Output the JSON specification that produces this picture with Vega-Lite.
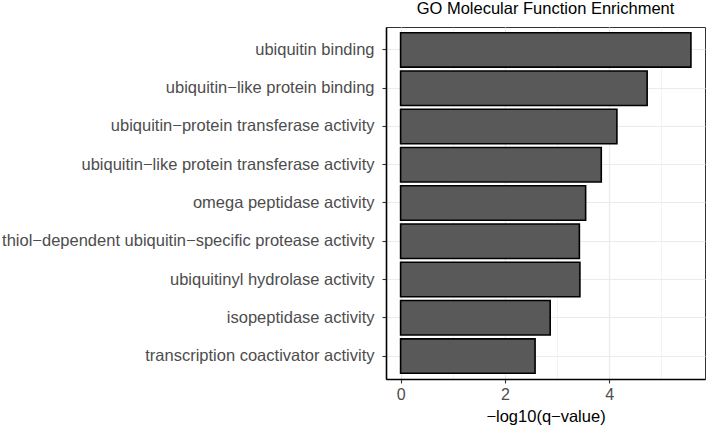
{
  "$schema": "https://vega.github.io/schema/vega-lite/v6.json",
  "width": 319,
  "height": 352,
  "autosize": {"type": "none"},
  "padding": {"left": 386, "top": 27, "right": 1, "bottom": 48},
  "background": "white",
  "title": {
    "text": "GO Molecular Function Enrichment",
    "fontSize": 16.5,
    "fontWeight": "normal",
    "font": "Liberation Sans",
    "color": "black",
    "anchor": "middle",
    "frame": "group",
    "offset": 10
  },
  "data": {
    "values": [
      {"term": "ubiquitin binding", "value": 5.57},
      {"term": "ubiquitin−like protein binding", "value": 4.73},
      {"term": "ubiquitin−protein transferase activity", "value": 4.15},
      {"term": "ubiquitin−like protein transferase activity", "value": 3.85},
      {"term": "omega peptidase activity", "value": 3.55},
      {"term": "thiol−dependent ubiquitin−specific protease activity", "value": 3.43},
      {"term": "ubiquitinyl hydrolase activity", "value": 3.44},
      {"term": "isopeptidase activity", "value": 2.87},
      {"term": "transcription coactivator activity", "value": 2.58}
    ]
  },
  "mark": {"type": "bar", "fill": "#595959", "stroke": "black", "strokeWidth": 1.6},
  "encoding": {
    "y": {
      "field": "term",
      "type": "nominal",
      "sort": [
        "ubiquitin binding",
        "ubiquitin−like protein binding",
        "ubiquitin−protein transferase activity",
        "ubiquitin−like protein transferase activity",
        "omega peptidase activity",
        "thiol−dependent ubiquitin−specific protease activity",
        "ubiquitinyl hydrolase activity",
        "isopeptidase activity",
        "transcription coactivator activity"
      ],
      "scale": {"paddingInner": 0.1, "paddingOuter": 0.15},
      "axis": {
        "title": null,
        "bandPosition": 0.5,
        "grid": true,
        "gridColor": "#EBEBEB",
        "gridWidth": 1.2,
        "labelPadding": 8,
        "labelLimit": 0,
        "labelFontSize": 16.5
      }
    },
    "x": {
      "field": "value",
      "type": "quantitative",
      "scale": {"domain": [-0.28, 5.84], "nice": false, "zero": false},
      "axis": {
        "title": "−log10(q−value)",
        "values": [0, 1, 2, 3, 4, 5],
        "labelExpr": "datum.value % 2 === 0 ? datum.label : ''",
        "tickOpacity": {"condition": {"test": "datum.value % 2 === 1", "value": 0}, "value": 1},
        "gridWidth": {"condition": {"test": "datum.value % 2 === 1", "value": 0.6}, "value": 1.2},
        "grid": true,
        "gridColor": "#EBEBEB",
        "labelPadding": 3,
        "titlePadding": 6
      }
    },
    "x2": {"datum": 0}
  },
  "config": {
    "view": {"stroke": "#333333", "strokeWidth": 1},
    "axis": {
      "domainColor": "black",
      "domainWidth": 1.6,
      "tickColor": "#333333",
      "tickWidth": 1.1,
      "tickSize": 4,
      "labelColor": "#4D4D4D",
      "labelFont": "Liberation Sans",
      "labelFontSize": 16,
      "titleFont": "Liberation Sans",
      "titleFontSize": 16.5,
      "titleFontWeight": "normal",
      "titleColor": "black"
    }
  }
}
